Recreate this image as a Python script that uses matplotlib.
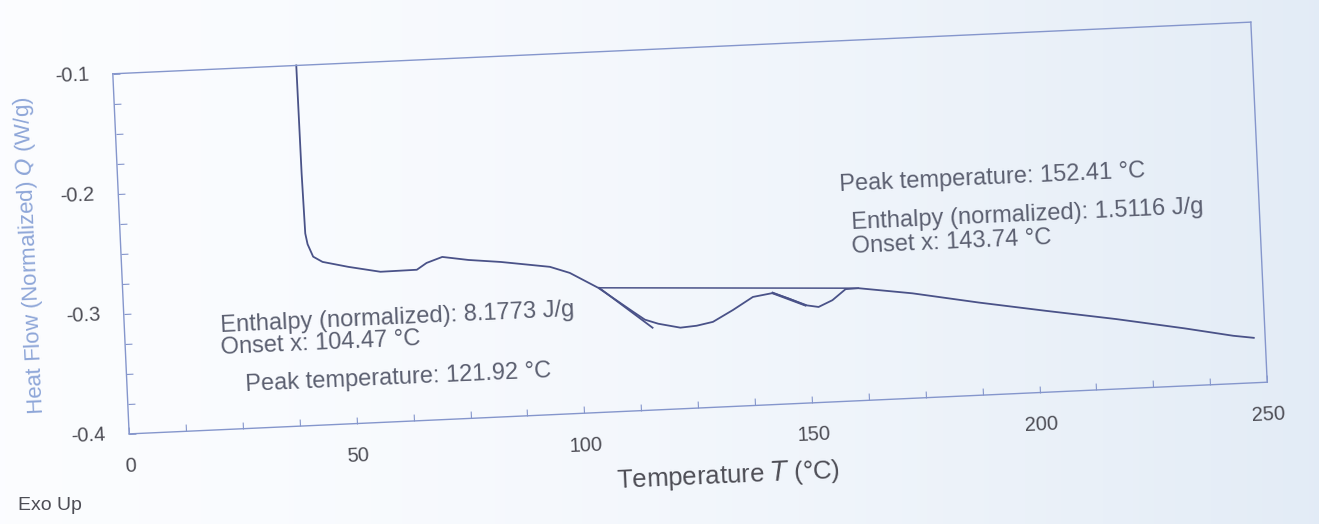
import numpy as np
import matplotlib
matplotlib.use("Agg")
import matplotlib.pyplot as plt
from matplotlib.transforms import Affine2D
import mpl_toolkits.axisartist.floating_axes as floating_axes
from mpl_toolkits.axisartist.grid_finder import FixedLocator, DictFormatter

plt.rcParams['font.family'] = ['Liberation Sans', 'DejaVu Sans']

# DSC curve
temp = [40.3, 40.4, 40.6, 41.0, 42.1, 44.1, 49.7, 56.7, 64.7, 66.9, 70.4, 76.1,
        83.2, 93.9, 98.2, 104.3, 111.7, 114.2, 117.1, 121.9, 125.5, 129.1, 133.6,
        138.1, 142.5, 146.0, 149.5, 152.4, 155.5, 158.5, 161.3, 173.1, 187.6,
        202.2, 217.5, 232.4, 243.0, 247.5]
heat_flow = [-0.100, -0.190, -0.240, -0.2490, -0.2596, -0.2643, -0.2694, -0.2747,
             -0.2744, -0.2691, -0.2647, -0.2682, -0.2711, -0.2770, -0.2828, -0.2963,
             -0.3175, -0.3245, -0.3284, -0.3325, -0.3315, -0.3289, -0.3198, -0.3097,
             -0.3072, -0.3125, -0.3185, -0.3205, -0.3154, -0.3067, -0.3064, -0.3127,
             -0.3229, -0.3323, -0.3418, -0.3521, -0.3601, -0.3626]

# analysis lines
tangent1_x = [104.47, 115.8]
tangent1_y = [-0.2963, -0.3315]
baseline_x = [104.47, 161.3]
baseline_y = [-0.2963, -0.3064]
tangent2_x = [142.5, 149.5]
tangent2_y = [-0.3072, -0.3185]

x_major = [0, 50, 100, 150, 200, 250]
y_major = [-0.4, -0.3, -0.2, -0.1]
x_ticks = [12.5 * i for i in range(21)]
y_ticks = [round(-0.4 + 0.025 * i, 3) for i in range(13)]

# (x, y of baseline, text)
notes = [
    (21.2, -0.3187, "Enthalpy (normalized): 8.1773 J/g"),
    (21.0, -0.3370, "Onset x: 104.47 \u00b0C"),
    (26.1, -0.3687, "Peak temperature: 121.92 \u00b0C"),
    (158.3, -0.2249, "Peak temperature: 152.41 \u00b0C"),
    (160.5, -0.2570, "Enthalpy (normalized): 1.5116 J/g"),
    (160.3, -0.2769, "Onset x: 143.74 \u00b0C"),
]

curve_col = '#4a5288'
frame_col = '#8596cc'
text_col = '#5b5f70'
tick_col = '#4d4d55'
tilt = 2.6

fig = plt.figure(figsize=(13.19, 5.24), dpi=100)

# scanned paper tint
bg = fig.add_axes([0, 0, 1, 1], zorder=-10)
bg.axis('off')
g = np.linspace(0, 1, 256)[None, :, None] ** 1.6
c0 = np.array([0.985, 0.99, 1.0])
c1 = np.array([0.89, 0.925, 0.965])
bg.imshow(c0 + (c1 - c0) * g, aspect='auto', extent=[0, 1, 0, 1])

tr = Affine2D().scale(4.57, 1205).rotate_deg(tilt)
grid_helper = floating_axes.GridHelperCurveLinear(
    tr, extremes=(0, 250, -0.4, -0.1),
    grid_locator1=FixedLocator(x_ticks),
    grid_locator2=FixedLocator(y_ticks),
    tick_formatter1=DictFormatter({v: str(v) for v in x_major}),
    tick_formatter2=DictFormatter({v: f"{v:.1f}" for v in y_major}))

ax = fig.add_axes([95.5 / 1319, (524 - 438) / 524, 1189 / 1319, 420 / 524],
                  axes_class=floating_axes.FloatingAxes, grid_helper=grid_helper)
ax.set_aspect('equal')
ax.patch.set_facecolor('none')

for side in ["left", "bottom", "right", "top"]:
    a = ax.axis[side]
    a.line.set_color(frame_col)
    a.line.set_linewidth(1.0)
    a.major_ticks.set_color(frame_col)
    a.major_ticks.set_ticksize(5)
    a.major_ticklabels.set_fontsize(14.5)
    a.major_ticklabels.set_color(tick_col)
for side in ["right", "top"]:
    ax.axis[side].major_ticks.set_visible(False)
    ax.axis[side].major_ticklabels.set_visible(False)
ax.axis["left"].major_ticklabels.set_pad(17)
ax.axis["bottom"].major_ticklabels.set_pad(17)

aux = ax.get_aux_axes(tr)
aux.plot(temp, heat_flow, color=curve_col, lw=1.3)
aux.plot(baseline_x, baseline_y, color=curve_col, lw=1.1)
aux.plot(tangent1_x, tangent1_y, color=curve_col, lw=1.3)
aux.plot(tangent2_x, tangent2_y, color=curve_col, lw=1.8)

for x, y, s in notes:
    aux.text(x, y, s, fontsize=17, color=text_col, ha='left', va='baseline',
             rotation=tilt, rotation_mode='anchor')

aux.text(106.3, -0.4634, "Temperature $T$ (\u00b0C)", fontsize=18.5, color=tick_col,
         ha='left', va='baseline', rotation=tilt, rotation_mode='anchor')

fig.text(30 / 1319, 1 - 255 / 524, "Heat Flow (Normalized) $Q$ (W/g)", fontsize=16,
         color='#8ea6d8', rotation=90 + tilt, ha='center', va='center')
fig.text(18 / 1319, 1 - 505 / 524, "Exo Up", fontsize=14, color=tick_col,
         ha='left', va='center')

fig.savefig("out.png", dpi=100)
